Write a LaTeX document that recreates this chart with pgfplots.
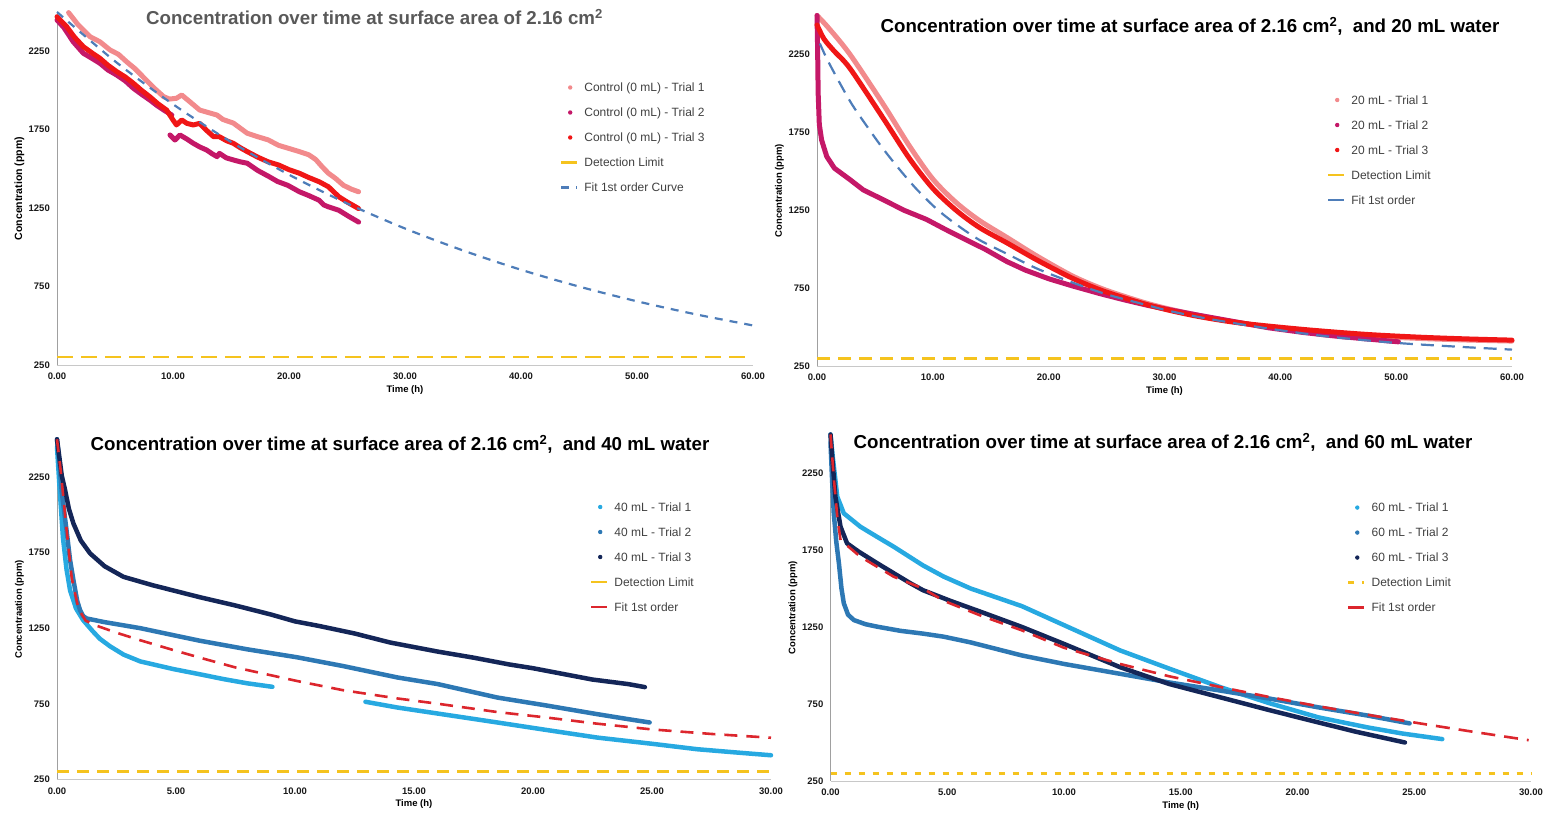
\documentclass[border=0pt]{standalone}
\usepackage{fontspec}
\setmainfont{Liberation Sans}
\usepackage{pgfplots}
\pgfplotsset{compat=1.18}

\definecolor{pinkA}{RGB}{242,138,140}
\definecolor{magB}{RGB}{196,24,104}
\definecolor{redC}{RGB}{240,22,22}
\definecolor{fitblue}{RGB}{78,125,185}
\definecolor{detyellow}{RGB}{245,195,30}
\definecolor{lblue}{RGB}{39,169,225}
\definecolor{mblue}{RGB}{45,120,180}
\definecolor{navy}{RGB}{20,38,88}
\definecolor{fitred}{RGB}{220,38,45}
\definecolor{legtext}{RGB}{64,64,64}
\definecolor{titlegray}{RGB}{89,89,89}
\definecolor{yaxgray}{RGB}{160,160,160}
\definecolor{xaxgray}{RGB}{200,200,200}

\pgfplotsset{
  conc/.style={
    scale only axis, anchor=south west, clip=false,
    axis x line*=bottom, axis y line*=left,
    axis line style={-},
    x axis line style={draw=xaxgray, line width=0.8pt},
    y axis line style={draw=yaxgray, line width=0.8pt},
    major tick length=0pt,
    ymin=250, ymax=2500, ytick={250,750,1250,1750,2250},
    unbounded coords=jump,
    /pgf/number format/assume math mode=true,
    /pgf/number format/1000 sep={},
    tick label style={font=\fontsize{9.5}{11}\selectfont\bfseries, text=black!90},
    yticklabel style={anchor=east, inner sep=0pt, xshift=-7pt},
    xticklabel style={anchor=north, inner sep=0pt, yshift=-8pt,
      /pgf/number format/fixed, /pgf/number format/fixed zerofill,
      /pgf/number format/precision=2},
    xlabel={Time (h)},
    every axis x label/.style={at={(axis description cs:0.5,0)}, anchor=center,
      yshift=-25pt, font=\fontsize{9.5}{11}\selectfont\bfseries},
    every axis y label/.style={at={(axis description cs:0,0.5)}, xshift=-37.5pt,
      rotate=90, anchor=center, font=\fontsize{9.5}{11}\selectfont\bfseries},
    legend cell align=left,
    legend style={anchor=north west, draw=none, fill=none, inner sep=0pt,
      outer sep=0pt, row sep=13pt, font=\fontsize{12}{14}\selectfont,
      text=legtext, nodes={inner sep=0pt, text height=10pt, text depth=2pt},
      /tikz/every odd column/.append style={column sep=6pt}},
    title style={anchor=base, yshift=-6pt, font=\fontsize{18.7}{22}\selectfont\bfseries},
  },
  dotkey/.style={legend image code/.code={
      \path[draw=none, fill=none] (0pt,0pt) -- (16pt,0pt);
      \fill[draw=none] (9pt,0pt) circle (2.2pt);}},
  solidkey/.style={legend image code/.code={
      \draw[solid, line width=2.4pt] (0pt,0pt) -- (16pt,0pt);}},
  linekey/.style={legend image code/.code={\draw (0pt,0pt) -- (16pt,0pt);}},
  trial/.style={line width=5pt, line join=round, line cap=round, dotkey, no markers},
  trialthin/.style={line width=4.5pt, line join=round, line cap=round, dotkey, no markers},
}

\begin{document}
\begin{tikzpicture}
\useasboundingbox (0pt,0pt) rectangle (1551pt,813pt);

% ---------- Control (0 mL) ----------
\begin{axis}[conc, at={(57pt,448pt)}, width=696pt, height=353pt,
  xmin=0, xmax=60, xtick={0,10,...,60},
  ylabel={Concentration (ppm)},
  every axis y label/.append style={font=\fontsize{10.5}{12}\selectfont\bfseries},
  title={\textcolor{titlegray}{Concentration over time at surface area of 2.16 cm\textsuperscript{2}}},
  title style={at={(axis description cs:0.4562,0.9632)}},
  legend style={at={(axis description cs:0.7227,0.8031)}}]
\addplot[trial, pinkA] coordinates {
 (1.0,2496) (1.8,2420) (2.84,2343) (3.7,2310) (4.57,2258) (5.3,2230) (6.0,2183)
 (6.7,2140) (7.4,2088) (8.3,2020) (9.2,1960) (9.7,1945) (10.3,1950) (10.75,1971)
 (11.5,1925) (12.3,1875) (13.0,1860) (13.8,1843) (14.3,1815) (15.2,1792) (16.4,1727)
 (17.3,1705) (18.2,1685) (19.1,1650) (20.0,1630) (20.9,1610) (21.7,1590) (22.3,1560)
 (22.9,1510) (23.4,1472) (24.0,1440) (24.7,1395) (25.4,1370) (26.0,1354)};
\addlegendentry{Control (0 mL) - Trial 1}
\addplot[trial, magB] coordinates {
 (0,2449) (0.6,2400) (1.4,2310) (2.27,2237) (3.0,2205) (3.7,2173) (4.4,2130)
 (5.15,2098) (5.9,2060) (6.58,2014) (7.3,1975) (8.0,1939) (8.6,1905) (9.2,1875)
 (9.9,1843) (9.9,nan) (9.74,1716) (10.17,1684) (10.6,1716) (11.2,1690) (11.75,1663)
 (12.3,1640) (12.9,1620) (13.4,1595) (13.8,1578) (14.0,1599) (14.6,1570) (15.2,1557)
 (15.8,1545) (16.4,1536) (17.3,1490) (18.3,1450) (19.0,1420) (19.9,1395) (20.9,1354)
 (21.7,1330) (22.6,1300) (23.0,1270) (23.4,1258) (24.3,1236) (25.2,1195) (26.0,1161)};
\addlegendentry{Control (0 mL) - Trial 2}
\addplot[trial, redC] coordinates {
 (0,2470) (0.84,2406) (1.5,2340) (2.27,2279) (3.0,2240) (3.7,2205) (4.4,2160)
 (5.15,2120) (5.9,2085) (6.58,2046) (7.3,2000) (8.0,1960) (8.7,1915) (9.45,1875)
 (10.0,1812) (10.3,1780) (10.75,1812) (11.2,1790) (11.75,1780) (12.3,1790) (12.9,1745)
 (13.5,1705) (14.0,1705) (14.6,1680) (15.2,1663) (15.8,1635) (16.4,1610) (17.3,1575)
 (18.2,1545) (19.1,1525) (20.0,1495) (20.9,1472) (21.7,1445) (22.6,1418) (23.4,1386)
 (24.3,1322) (25.1,1285) (26.0,1247)};
\addlegendentry{Control (0 mL) - Trial 3}
\addplot[detyellow, line width=2.6pt, dash pattern=on 16pt off 8pt, solidkey]
 coordinates {(0,300) (60,300)};
\addlegendentry{Detection Limit}
\addplot[fitblue, line width=2.2pt, dash pattern=on 8pt off 7pt, smooth, linekey]
 coordinates {(0,2500) (5,2186) (10,1912) (15,1672) (20,1463) (25,1280) (30,1120)
 (35,980) (40,857) (45,750) (50,656) (55,574) (60,502)};
\addlegendentry{Fit 1st order Curve}
\end{axis}

% ---------- 20 mL ----------
\begin{axis}[conc, at={(817pt,447pt)}, width=695pt, height=350.5pt,
  xmin=0, xmax=60, xtick={0,10,...,60},
  ylabel={Concentration (ppm)},
  title={Concentration over time at surface area of 2.16 cm\textsuperscript{2},\hspace{0.55em}and 20 mL water},
  title style={at={(axis description cs:0.5367,0.9515)}},
  legend style={at={(axis description cs:0.7338,0.776)}}]
\addplot[trial, pinkA, smooth] coordinates {
 (0,2500) (1,2420) (2.85,2250) (5.72,1930) (8,1660) (10,1450) (12,1300) (14,1185)
 (16.4,1075) (19,955) (22,830) (24.4,752) (26.5,698) (28.5,652) (30.5,614) (33,574)
 (36,534) (39,500) (43,469) (47.6,443) (52,427) (56,417) (60,410)};
\addlegendentry{20 mL - Trial 1}
\addplot[trial, magB] coordinates {
 (0,2500) (0.05,2300) (0.1,2000) (0.2,1800) (0.4,1700) (0.84,1595) (1.5,1520)
 (2.85,1446) (4,1380) (5.7,1318) (7.5,1250) (9.45,1191) (11,1130) (13,1055)
 (14.5,1000) (16.4,920) (18,865) (20,810) (22,765) (24.4,715) (26.5,675) (28.5,640)
 (30.5,610) (33,575) (36,535) (39,495) (42,465) (45,440) (48,420) (50.2,405)};
\addlegendentry{20 mL - Trial 2}
\addplot[trial, redC, smooth] coordinates {
 (0,2440) (0.6,2350) (1.5,2270) (2.85,2160) (5.72,1840) (8,1580) (10,1390) (12,1250)
 (14,1140) (16.4,1040) (19,930) (22,815) (24.4,740) (26.5,688) (28.5,644) (30.5,606)
 (33,567) (36,531) (39,506) (43,478) (47.6,452) (52,435) (56,424) (60,416)};
\addlegendentry{20 mL - Trial 3}
\addplot[detyellow, line width=2.6pt, dash pattern=on 13pt off 8pt, solidkey]
 coordinates {(0,300) (60,300)};
\addlegendentry{Detection Limit}
\addplot[fitblue, line width=2.2pt, dash pattern=on 13pt off 8pt, smooth, solidkey]
 coordinates {(0.25,2320) (1,2200) (2.85,1950) (4.3,1790) (5.7,1645) (7.2,1505)
 (8.6,1385) (10.3,1260) (12,1160) (14,1060) (16.4,970) (19,875) (22,787) (25,710)
 (28,650) (30.5,602) (34,550) (39,490) (44,440) (49.7,400) (55,375) (60,355)};
\addlegendentry{Fit 1st order}
\end{axis}

% ---------- 40 mL ----------
\begin{axis}[conc, at={(57pt,33.7pt)}, width=714pt, height=340pt,
  xmin=0, xmax=30, xtick={0,5,...,30},
  ylabel={Concentraation (ppm)},
  title={Concentration over time at surface area of 2.16 cm\textsuperscript{2},\hspace{0.55em}and 40 mL water},
  title style={at={(axis description cs:0.4804,0.9656)}},
  legend style={at={(axis description cs:0.7465,0.8185)}}]
\addplot[trialthin, lblue] coordinates {
 (0,2450) (0.1,2200) (0.25,1850) (0.4,1640) (0.55,1500) (0.8,1380) (1.1,1303)
 (1.5,1230) (1.8,1180) (2.23,1130) (2.8,1075) (3.5,1030) (4.9,979) (6,945) (7,913)
 (8,885) (9.05,862) (9.05,nan) (12.96,763) (14.3,725) (16,685) (18.5,626) (20.5,578)
 (22.7,526) (25,485) (26.9,449) (28.5,428) (30,409)};
\addlegendentry{40 mL - Trial 1}
\addplot[trialthin, mblue] coordinates {
 (0,2500) (0.1,2350) (0.2,2150) (0.4,1899) (0.55,1700) (0.69,1568) (0.85,1430)
 (0.97,1369) (1.1,1330) (1.25,1314) (2,1290) (3.5,1250) (5,1200) (6,1167) (8,1110)
 (10.1,1057) (12,1000) (14.3,924) (16,880) (18.5,791) (20.5,740) (22.7,681) (24,648)
 (24.9,626)};
\addlegendentry{40 mL - Trial 2}
\addplot[trialthin, navy] coordinates {
 (0,2500) (0.1,2380) (0.2,2260) (0.34,2164) (0.5,2040) (0.69,1943) (1.0,1830)
 (1.39,1745) (2.0,1660) (2.79,1590) (4,1535) (5,1495) (6,1455) (7.5,1400) (9,1340)
 (10,1295) (11,1265) (12.5,1215) (14,1155) (15,1125) (16,1095) (17.5,1055) (19,1010)
 (20,985) (21,955) (22.5,910) (24,880) (24.7,860)};
\addlegendentry{40 mL - Trial 3}
\addplot[detyellow, line width=2.6pt, dash pattern=on 12pt off 8pt, solidkey]
 coordinates {(0,300) (30,300)};
\addlegendentry{Detection Limit}
\addplot[fitred, line width=2.6pt, dash pattern=on 13pt off 9pt, solidkey]
 coordinates {(0,2500) (0.15,2300) (0.34,2000) (0.62,1580) (0.9,1380) (1.2,1300)
 (1.6,1270) (2.5,1220) (3.5,1170) (5,1100) (6,1055) (7.5,990) (10.1,900) (12,840)
 (14.3,785) (16,750) (18.5,695) (20.5,660) (22.7,618) (25,580) (27.5,550) (30,525)};
\addlegendentry{Fit 1st order}
\end{axis}

% ---------- 60 mL ----------
\begin{axis}[conc, at={(830.5pt,32pt)}, width=700.5pt, height=346.5pt,
  xmin=0, xmax=30, xtick={0,5,...,30},
  ylabel={Concentration (ppm)},
  title={Concentration over time at surface area of 2.16 cm\textsuperscript{2},\hspace{0.55em}and 60 mL water},
  title style={at={(axis description cs:0.4747,0.9582)}},
  legend style={at={(axis description cs:0.7373,0.8064)}}]
\addplot[trialthin, lblue] coordinates {
 (0,2500) (0.1,2350) (0.29,2096) (0.57,1988) (1.28,1901) (2.0,1835) (2.71,1771)
 (3.96,1650) (4.85,1577) (6,1500) (8.2,1385) (10,1262) (12.4,1098) (14.5,980)
 (16.7,859) (18.8,755) (20.9,663) (23,598) (24.5,558) (26.2,522)};
\addlegendentry{60 mL - Trial 1}
\addplot[trialthin, mblue] coordinates {
 (0,2450) (0.07,2200) (0.14,1988) (0.25,1800) (0.36,1664) (0.47,1500) (0.57,1404)
 (0.75,1330) (1.0,1295) (1.5,1268) (2.0,1252) (3,1225) (3.96,1207) (4.85,1187)
 (6,1150) (8.2,1065) (10,1010) (12.4,946) (14.5,890) (16.7,837) (18.8,785) (20.9,728)
 (23,675) (24.8,624)};
\addlegendentry{60 mL - Trial 2}
\addplot[trialthin, navy] coordinates {
 (0,2500) (0.1,2300) (0.21,2096) (0.43,1901) (0.71,1793) (1.2,1740) (2.0,1664)
 (3.42,1534) (3.96,1489) (5.13,1420) (6.5,1345) (8.2,1250) (10,1140) (12.4,989)
 (14.5,880) (16.7,793) (18.8,710) (20.9,630) (22.5,570) (24.6,500)};
\addlegendentry{60 mL - Trial 3}
\addplot[detyellow, line width=2.6pt, dash pattern=on 6pt off 8pt, linekey]
 coordinates {(0,300) (30,300)};
\addlegendentry{Detection Limit}
\addplot[fitred, line width=2.6pt, dash pattern=on 14pt off 9pt, solidkey]
 coordinates {(0,2500) (0.15,2200) (0.3,1950) (0.43,1815) (1.28,1706) (2.7,1577)
 (3.96,1500) (4.85,1420) (6.5,1320) (8.2,1228) (10,1115) (12.4,1010) (14.5,930)
 (16.7,860) (18.8,795) (20.9,735) (23,680) (25.2,625) (27.5,570) (29.9,515)};
\addlegendentry{Fit 1st order}
\end{axis}
\end{tikzpicture}
\end{document}
